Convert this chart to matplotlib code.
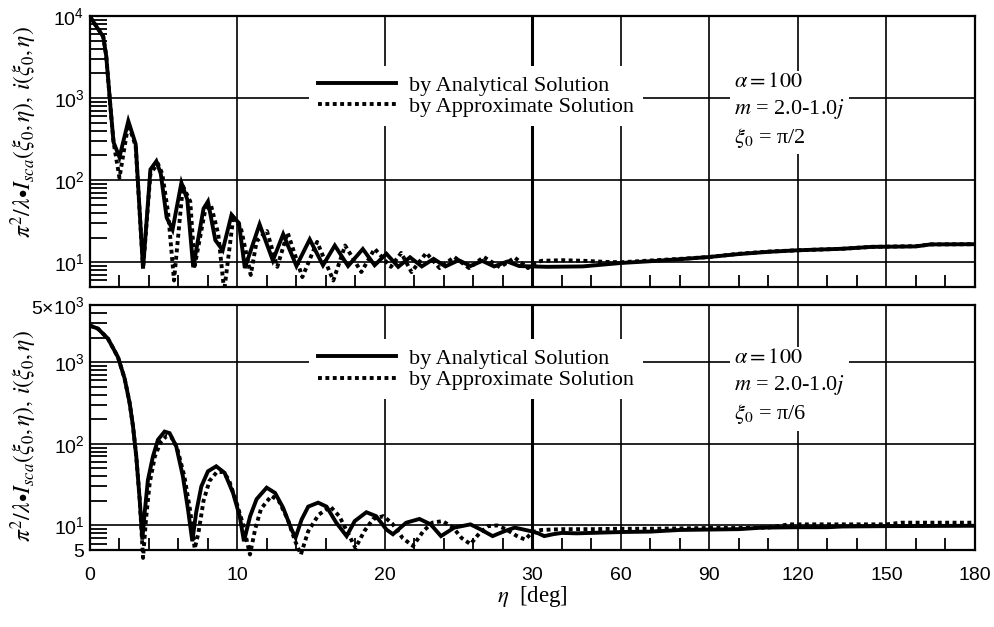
import numpy as np
import matplotlib.pyplot as plt
from matplotlib.ticker import FixedLocator, NullFormatter, LogLocator

plt.rcParams['font.family'] = 'Liberation Sans'
plt.rcParams['mathtext.fontset'] = 'stix'
# sans math font used only for the y tick labels (math_fontfamily='custom')
plt.rcParams['mathtext.rm'] = 'Liberation Sans'
plt.rcParams['mathtext.it'] = 'Liberation Sans:italic'
plt.rcParams['mathtext.bf'] = 'Liberation Sans:bold'

# --- data (eta in degrees) ---
# upper panel, xi0 = pi/2
top_eta_ana = [0.0, 0.9, 1.1, 1.4, 1.6, 2.0, 2.6, 3.1, 3.6, 4.1, 4.5, 4.8, 5.2, 5.6,
               6.2, 6.6, 7.0, 7.7, 8.0, 8.5, 9.0, 9.6, 10.1, 10.5, 11.5, 12.4, 13.1,
               14.0, 14.9, 15.8, 16.6, 17.5, 18.5, 19.3, 20.1, 20.9, 21.7, 22.5, 23.3,
               24.1, 25.0, 25.8, 26.6, 27.4, 28.3, 29.1, 30.0, 35, 47, 60, 70, 80, 90,
               100, 110, 120, 135, 145, 160, 165, 180]
top_ana = [9800, 5600, 3300, 740, 290, 190, 525, 275, 8.4, 135, 170, 120, 35, 25,
           93, 58, 8.7, 45, 55, 18.6, 14, 38, 30, 8.5, 29, 10.5, 22,
           9.0, 19, 9.2, 16, 9.0, 14.5, 9.2, 12.7, 8.8, 11.5, 8.9, 11.0,
           8.9, 10.6, 9.0, 10.4, 8.9, 10.2, 9.0, 8.9, 8.8, 8.9, 9.8, 10.3, 10.9, 11.6,
           12.6, 13.4, 14.0, 14.6, 15.4, 15.6, 16.5, 16.6]

top_eta_apx = [0.0, 0.9, 1.1, 1.4, 1.6, 2.0, 2.6, 3.1, 3.6, 4.1, 4.6, 4.9, 5.3, 5.7,
               6.3, 6.8, 7.1, 7.8, 8.2, 8.7, 9.1, 9.7, 10.2, 10.9, 11.3, 12.0, 12.7,
               13.4, 14.4, 15.4, 16.5, 17.3, 18.4, 19.3, 20.4, 21.1, 21.8, 22.8, 23.7,
               24.7, 25.7, 26.7, 27.8, 28.8, 29.7, 30.0, 33, 40, 48, 55, 60, 70, 80,
               90, 100, 110, 120, 135, 145, 160, 165, 180]
top_apx = [9800, 5600, 3300, 740, 290, 107, 480, 260, 8.4, 120, 160, 120, 40, 6.0,
           85, 55, 9.0, 42, 50, 22, 4.5, 33, 28, 7.0, 18, 24, 8.8,
           23, 6.6, 17.7, 6.0, 16, 7.6, 14.6, 8.8, 13, 7.6, 13, 8.5,
           11.6, 8.5, 11.6, 8.7, 11.4, 8.5, 9.5, 10.4, 10.6, 10.4, 10.1, 10.0, 10.5, 11.0,
           11.6, 12.7, 13.5, 14.0, 14.6, 15.4, 15.7, 16.5, 16.6]

# lower panel, xi0 = pi/6
bot_eta_ana = [0.0, 0.54, 1.22, 1.9, 2.35, 2.69, 2.92, 3.14, 3.37, 3.55, 3.71, 3.93,
               4.27, 4.61, 5.06, 5.4, 5.85, 6.3, 6.64, 6.94, 7.2, 7.55, 8.0, 8.56,
               9.13, 9.7, 10.15, 10.44, 10.86, 11.3, 11.98, 12.55, 13.1, 13.67, 13.94,
               14.35, 14.8, 15.47, 16.04, 16.7, 17.4, 17.95, 18.74, 19.4, 20.1, 20.54,
               21.44, 22.34, 23.1, 23.8, 24.7, 25.8, 26.5, 27.3, 28.1, 28.8, 29.9,
               32, 34, 37, 40, 45, 50, 60, 70, 75, 80, 90, 100, 108, 120, 130, 135,
               150, 180]
bot_ana = [2800, 2570, 1940, 1150, 630, 316, 163, 70, 21, 6.7, 14.4, 36,
           70, 112, 141, 135, 93, 40, 16, 6.4, 14.4, 30, 46, 53,
           44, 25, 13, 6.4, 13, 21, 29, 25, 16.4, 8.9, 7.1,
           11.8, 17, 19, 17, 10.8, 7.4, 11.3, 14.5, 13, 8.9, 7.8,
           10.8, 12, 10.3, 7.4, 9.4, 10.3, 8.9, 7.4, 8.5, 9.4, 8.5,
           8.0, 7.4, 7.8, 8.1, 8.0, 8.1, 8.3, 8.4, 8.6, 8.8, 8.9, 9.0, 9.4, 9.5, 9.5, 9.7,
           9.8, 9.9]

bot_eta_apx = [0.0, 0.54, 1.22, 1.9, 2.35, 2.69, 2.92, 3.14, 3.37, 3.6, 3.8, 4.05,
               4.4, 4.8, 5.2, 5.5, 5.9, 6.4, 6.8, 7.1, 7.35, 7.7, 8.1, 8.6, 9.0,
               9.4, 9.9, 10.4, 10.85, 11.2, 11.6, 12.3, 12.8, 13.4, 13.9, 14.3,
               14.8, 15.5, 16.3, 16.9, 17.5, 18.0, 18.6, 19.2, 19.9, 20.5, 21.2, 21.9,
               22.6, 23.2, 23.9, 24.6, 25.2, 25.8, 26.4, 27.0, 27.6, 28.2, 28.9, 29.5,
               30.0, 33, 40, 50, 60, 70, 80, 90, 100, 110, 117, 120, 130, 150, 155, 180]
bot_apx = [2800, 2570, 1940, 1150, 630, 316, 163, 70, 21, 4.0, 12, 33,
           70, 105, 125, 122, 90, 40, 15, 5.2, 8, 20, 35, 45, 45,
           37, 20, 10, 4.4, 9, 16, 23, 20, 12, 6.5, 4.4,
           8.5, 13.5, 17, 13, 8, 5.3, 8.5, 12, 13, 10.5, 7, 5.6,
           8.5, 10.8, 11.3, 9.5, 7, 5.9, 8, 9.8, 10, 9, 7.5, 6.7,
           8.3, 8.8, 9.0, 9.0, 9.1, 9.1, 9.2, 9.3, 9.3, 9.4, 10.3, 10.3, 10.3, 10.3, 10.8, 10.8]

x_major = [0, 10, 20, 30, 60, 90, 120, 150, 180]
x_minor = [2, 4, 6, 8, 12, 14, 16, 18, 22, 24, 26, 28,
           40, 50, 70, 80, 100, 110, 130, 140, 160, 170]

top_yticks = [10, 100, 1000, 10000]
top_ylabels = [r'$10^{1}$', r'$10^{2}$', r'$10^{3}$', r'$10^{4}$']
bot_yticks = [5, 10, 100, 1000, 5000]
bot_ylabels = ['5', r'$10^{1}$', r'$10^{2}$', r'$10^{3}$', r'$5{\times}10^{3}$']


# eta axis: 0-30 deg linear on the left half, 30-180 deg compressed on the right half
def fwd(x):
    x = np.asarray(x, dtype=float)
    return np.where(x <= 30, x, 30 + (x - 30) / 5.0)


def inv(x):
    x = np.asarray(x, dtype=float)
    return np.where(x <= 30, x, 30 + (x - 30) * 5.0)


serif = 'Liberation Serif'
ylab = r'$\pi^2/\lambda{\bullet}I_{sca}(\xi_0,\eta),\, i(\xi_0,\eta)$'
dot_style = (0, (1, 0.9))


def panel(ax, ea, va, eb, vb, ylim, yticks, ylabels, note, leg_y, note_y, lab_y, clip_dots):
    ax.set_xscale('function', functions=(fwd, inv))
    ax.set_yscale('log')
    ax.plot(ea, va, color='black', lw=2.8, solid_joinstyle='miter',
            label='by Analytical Solution')
    ax.plot(eb, vb, color='black', lw=2.8, linestyle=dot_style,
            label='by Approximate Solution', clip_on=clip_dots)
    ax.set_xlim(0, 180)
    ax.set_ylim(*ylim)

    ax.xaxis.set_major_locator(FixedLocator(x_major))
    ax.xaxis.set_minor_locator(FixedLocator(x_minor))
    ax.xaxis.set_minor_formatter(NullFormatter())
    ax.set_yticks(yticks)
    ax.set_yticklabels(ylabels, math_fontfamily='custom')
    ax.yaxis.set_minor_locator(LogLocator(base=10, subs=np.arange(2, 10)))
    ax.yaxis.set_minor_formatter(NullFormatter())

    ax.grid(True, which='major', color='black', lw=1.2)
    ax.axvline(30, color='black', lw=2.2, zorder=1.6)
    ax.tick_params(axis='x', which='minor', direction='in', length=9, width=1.3,
                   top=False, bottom=True)
    ax.tick_params(axis='x', which='major', direction='in', length=0,
                   labelsize=14, pad=12)
    ax.tick_params(axis='y', which='minor', direction='in', length=12, width=1.3,
                   left=True, right=False)
    ax.tick_params(axis='y', which='major', direction='in', length=0,
                   labelsize=14, pad=4)
    for s in ax.spines.values():
        s.set_linewidth(1.6)

    leg = ax.legend(loc='upper left', bbox_to_anchor=(0.2475, leg_y), frameon=True,
                    facecolor='white', edgecolor='none', framealpha=1, fancybox=False,
                    prop={'family': serif, 'size': 16}, handlelength=3.5,
                    handletextpad=0.6, labelspacing=0.05, borderpad=0.4,
                    borderaxespad=0)
    leg.set_zorder(5)

    ax.text(0.728, note_y, note, transform=ax.transAxes, ha='left', va='top',
            family=serif, fontsize=16, linespacing=1.3, zorder=6,
            bbox=dict(facecolor='white', edgecolor='none', pad=3))

    ax.set_ylabel(ylab, fontsize=17)
    ax.yaxis.set_label_coords(-0.058, lab_y)


fig = plt.figure(figsize=(9.94, 6.27), dpi=100)
ax1 = fig.add_axes([0.0905, 0.5423, 0.8903, 0.4322])
ax2 = fig.add_axes([0.0905, 0.1228, 0.8903, 0.3907])

panel(ax1, top_eta_ana, top_ana, top_eta_apx, top_apx, (5, 1e4), top_yticks, top_ylabels,
      '$\\alpha = 100$\n$m$ = 2.0-1.0$j$\n$\\xi_0$ = π/2', 0.815, 0.79, 0.572, True)
panel(ax2, bot_eta_ana, bot_ana, bot_eta_apx, bot_apx, (5, 5e3), bot_yticks, bot_ylabels,
      '$\\alpha = 100$\n$m$ = 2.0-1.0$j$\n$\\xi_0$ = π/6', 0.86, 0.82, 0.465, False)

ax1.tick_params(axis='x', labelbottom=False)
ax2.set_xlabel(r'$\eta$  [deg]', family=serif, fontsize=16.5, labelpad=0)

fig.savefig('out.png', dpi=100)
